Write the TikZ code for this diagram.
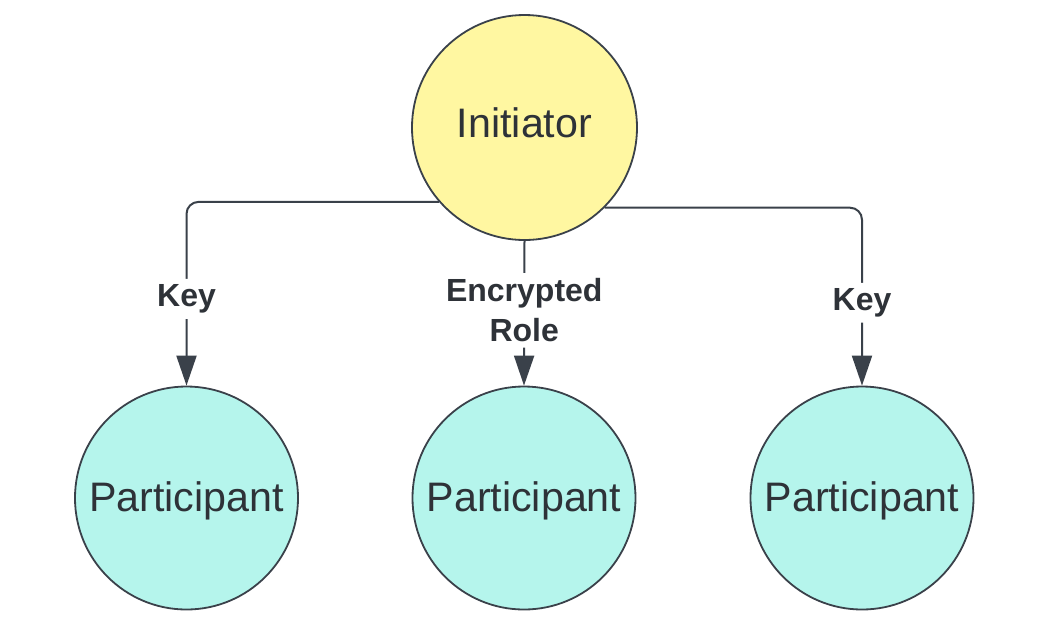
\documentclass[tikz,border=0pt]{standalone}
\usepackage{fontspec}
\setmainfont{Liberation Sans}
\usepackage{xcolor}
\usepackage{tikz}
\usetikzlibrary{arrows.meta}
\definecolor{initfill}{HTML}{FFF7A1}
\definecolor{partfill}{HTML}{B5F5EC}
\definecolor{edgecol}{HTML}{3A414A}
\definecolor{textcol}{HTML}{2E3238}

\begin{document}
\begin{tikzpicture}[x=0.5pt, y=-0.5pt,
    party/.style={circle, draw=edgecol, line width=0.9pt, inner sep=0pt,
      text=textcol, font=\fontsize{20.6}{24}\selectfont},
    link/.style={draw=edgecol, line width=1pt, rounded corners=6pt,
      -{Triangle[width=10pt,length=15pt]}},
    tag/.style={fill=white, text=textcol, inner sep=2.8pt, align=center,
      font=\bfseries\fontsize{16}{20}\selectfont}]
      \useasboundingbox (0, 0) rectangle (1050, 628);
      % the three parties
      \node[party, fill=initfill, minimum size=112.5pt, text height=14.8pt, text depth=5pt] (init) at (524.5, 127.5) {Initiator};
      \node[party, fill=partfill, minimum size=111.5pt, text height=17.8pt, text depth=4.3pt] (left) at (186.5, 498) {Participant};
      \node[party, fill=partfill, minimum size=111.5pt, text height=17.8pt, text depth=4.3pt] (mid) at (524, 498) {Participant};
      \node[party, fill=partfill, minimum size=111.5pt, text height=17.8pt, text depth=4.3pt] (right) at (862, 498) {Participant};
      % what goes out to them
      \draw[link] (init.221.5) -| node[tag, pos=0.764] {Key} (left.north);
      \draw[link] (init.south) -- node[tag, pos=0.48] {Encrypted\\Role} (mid.north);
      \draw[link] (init.315) -| node[tag, pos=0.767] {Key} (right.north);
    \end{tikzpicture}
\end{document}
